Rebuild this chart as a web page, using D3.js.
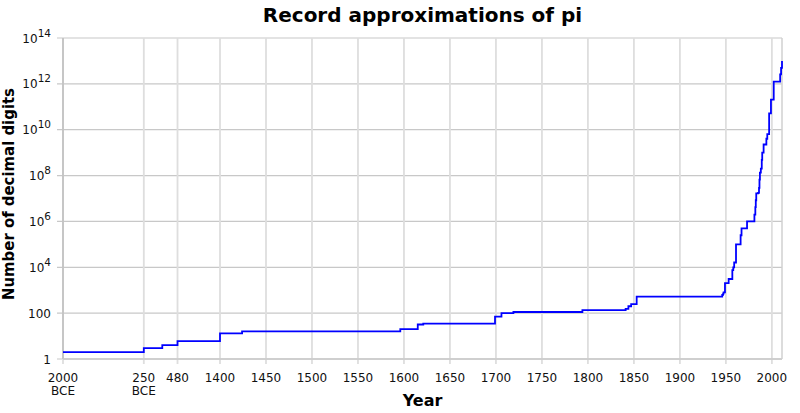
<!DOCTYPE html>
<html>
<head>
<meta charset="utf-8">
<script src="https://cdn.jsdelivr.net/npm/d3@7"></script>
<style>
  html, body { margin: 0; padding: 0; background: #fff; }
  svg { display: block; font-family: "DejaVu Sans", sans-serif; }
</style>
</head>
<body>
<svg id="chart" width="800" height="413"></svg>
<script>
// ---- data ----
const years = [-2000, -250, 150, 480, 1400, 1424, 1596, 1615, 1621, 1699, 1706, 1719, 1794,
  1841, 1844, 1847, 1853, 1946, 1947, 1947.5, 1949, 1953, 1957, 1958, 1959, 1961, 1966, 1967,
  1973, 1981, 1982, 1982.5, 1983, 1985, 1986, 1986.5, 1987, 1988, 1989, 1989.5, 1991, 1994,
  1995, 1997, 1999, 2002, 2009, 2009.9, 2010, 2011];
const digits = [2, 3, 4, 6, 13, 16, 20, 32, 35, 71, 100, 112, 136,
  152, 200, 248, 527, 620, 710, 808, 2037, 3089, 7480, 10000, 16167, 100265, 250000, 500000,
  1001250, 2000036, 4194288, 8388576, 16777206, 17526200, 29360111, 67108839, 134214700,
  201326551, 480000000, 1011196691, 2260000000, 4044000000,
  6442450938, 51539600000, 206158430000, 1241100000000, 2576980377524, 2699999990000,
  5000000000000, 10000000000000];
const xTickValues = [-2000, -250, 480, 1400, 1450, 1500, 1550, 1600, 1650, 1700, 1750, 1800, 1850, 1900, 1950, 2000];
const xTickLabels = [["2000", "BCE"], ["250", "BCE"], ["480"], ["1400"], ["1450"], ["1500"], ["1550"], ["1600"], ["1650"], ["1700"], ["1750"], ["1800"], ["1850"], ["1900"], ["1950"], ["2000"]];
const yTickExponents = [0, 2, 4, 6, 8, 10, 12, 14];
const title = "Record approximations of pi";
const xTitle = "Year";
const yTitle = "Number of decimal digits";

// ---- layout ----
const L = 63, R = 782, T = 38, B = 359;
const svg = d3.select("#chart");

const x = d3.scaleLinear().domain([-2000, 1400, 2011]).range([L, 220, R]);
const y = d3.scaleLog().domain([1, 1e14]).range([B, T]);

// horizontal grid + y ticks
const yTicks = yTickExponents.map(e => Math.pow(10, e));
svg.append("g").selectAll("line").data(yTicks).join("line")
  .attr("x1", L - 6).attr("x2", R)
  .attr("y1", d => y(d)).attr("y2", d => y(d))
  .attr("stroke", "#c8c8c8").attr("stroke-width", 1.2);

// vertical grid + x ticks
svg.append("g").selectAll("line").data(xTickValues).join("line")
  .attr("x1", d => x(d)).attr("x2", d => x(d))
  .attr("y1", T).attr("y2", B + 5)
  .attr("stroke", "#dedede").attr("stroke-width", 1.8);

// frame
svg.append("line").attr("x1", L).attr("x2", L).attr("y1", T).attr("y2", B)
  .attr("stroke", "#bdbdbd").attr("stroke-width", 1.5);
svg.append("line").attr("x1", L).attr("x2", R).attr("y1", B).attr("y2", B)
  .attr("stroke", "#c8c8c8").attr("stroke-width", 1.5);
svg.append("line").attr("x1", R).attr("x2", R).attr("y1", T).attr("y2", B)
  .attr("stroke", "#d0d0d0").attr("stroke-width", 1.5);

// y tick labels
const yl = svg.append("g").attr("font-size", 12).attr("fill", "#111");
yTickExponents.forEach(e => {
  const t = yl.append("text").attr("text-anchor", "end")
    .attr("x", 51).attr("y", y(Math.pow(10, e)) + 4.5);
  if (e === 0) t.text("1");
  else if (e === 2) t.text("100");
  else {
    t.append("tspan").text("10");
    t.append("tspan").attr("dy", -6).attr("font-size", 10.5).text(e);
  }
});

// x tick labels
const xl = svg.append("g").attr("font-size", 12).attr("fill", "#111").attr("text-anchor", "middle");
xTickValues.forEach((v, i) => {
  const t = xl.append("text").attr("x", x(v)).attr("y", 382);
  xTickLabels[i].forEach((s, j) => {
    t.append("tspan").attr("x", x(v)).attr("dy", j === 0 ? 0 : 12.7).text(s);
  });
});

// data line
svg.append("clipPath").attr("id", "clip").append("rect")
  .attr("x", L).attr("y", T - 1).attr("width", R - L + 1).attr("height", B - T + 1);
const pts = years.map((yr, i) => [yr, digits[i]]);
pts.push([2011, digits[digits.length - 1]]);
const line = d3.line().x(d => x(d[0])).y(d => y(d[1])).curve(d3.curveStepAfter);
svg.append("path").datum(pts).attr("d", line)
  .attr("clip-path", "url(#clip)")
  .attr("fill", "none").attr("stroke", "#0000ff").attr("stroke-width", 1.8);

// titles
svg.append("text").attr("x", (L + R) / 2).attr("y", 22).attr("text-anchor", "middle")
  .attr("font-size", 20).attr("font-weight", "bold").text(title);
svg.append("text").attr("x", (L + R) / 2).attr("y", 406).attr("text-anchor", "middle")
  .attr("font-size", 16).attr("font-weight", "bold").text(xTitle);
svg.append("text").attr("transform", "translate(14,194) rotate(-90)")
  .attr("text-anchor", "middle").attr("font-size", 16.5).attr("font-weight", "bold")
  .attr("textLength", 212).attr("lengthAdjust", "spacingAndGlyphs")
  .text(yTitle);
</script>
</body>
</html>
